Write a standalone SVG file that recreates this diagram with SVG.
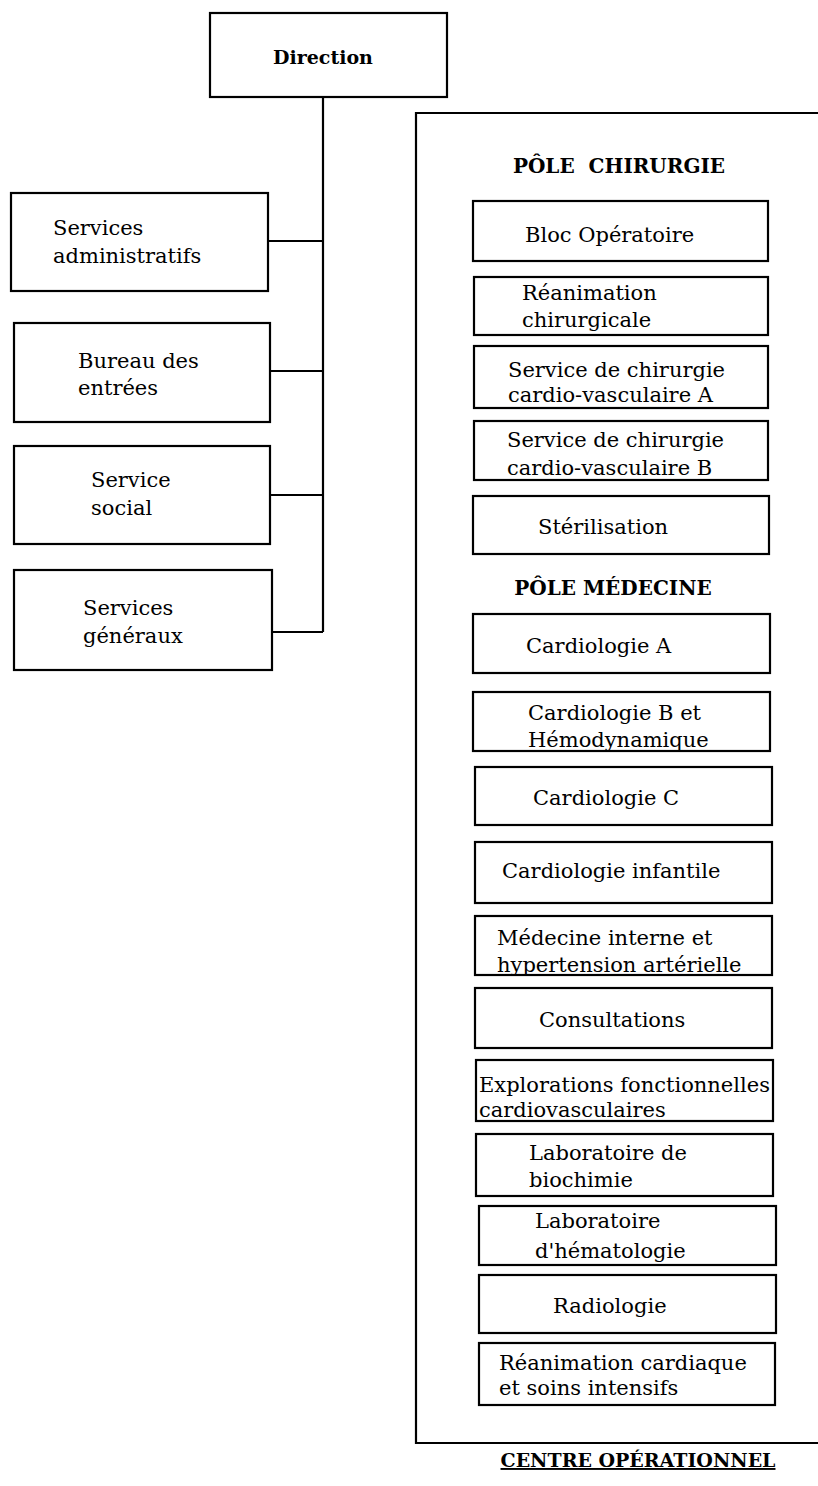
<svg xmlns="http://www.w3.org/2000/svg" width="818" height="1486" viewBox="0 0 818 1486">
<style>
.box{fill:#fff;stroke:#000;stroke-width:2.2}
.ln{fill:none;stroke:#000;stroke-width:2.2}
.t{font-family:"DejaVu Serif","Liberation Serif",serif;font-size:21px;fill:#000}
.b{font-family:"DejaVu Serif","Liberation Serif",serif;font-weight:bold;fill:#000}
</style>
<rect width="818" height="1486" fill="#fff"/>
<g id="connectors">
<path class="ln" d="M323 97 V632"/>
<path class="ln" d="M268 241 H323"/>
<path class="ln" d="M270 371 H323"/>
<path class="ln" d="M270 495 H323"/>
<path class="ln" d="M272 632 H323"/>
</g>
<g id="centre-operationnel">
<path class="ln" d="M818 113 H416 V1443 H818"/>
<text class="b" x="638" y="1467" font-size="19" text-anchor="middle" text-decoration="underline">CENTRE OPÉRATIONNEL</text>
</g>
<g id="direction">
<rect class="box" x="210" y="13" width="237" height="84"/>
<text class="b" x="323" y="64" font-size="19" text-anchor="middle">Direction</text>
</g>
<g id="services-administratifs">
<rect class="box" x="11" y="193" width="257" height="98"/>
<text class="t" x="53" y="235">Services</text>
<text class="t" x="53" y="263">administratifs</text>
</g>
<g id="bureau-des-entrees">
<rect class="box" x="14" y="323" width="256" height="99"/>
<text class="t" x="78" y="368">Bureau des</text>
<text class="t" x="78" y="395">entrées</text>
</g>
<g id="service-social">
<rect class="box" x="14" y="446" width="256" height="98"/>
<text class="t" x="91" y="487">Service</text>
<text class="t" x="91" y="515">social</text>
</g>
<g id="services-generaux">
<rect class="box" x="14" y="570" width="258" height="100"/>
<text class="t" x="83" y="615">Services</text>
<text class="t" x="83" y="643">généraux</text>
</g>
<g id="pole-chirurgie">
<text class="b" x="619" y="173" font-size="20" text-anchor="middle" style="white-space:pre">PÔLE  CHIRURGIE</text>
</g>
<g id="bloc-operatoire">
<rect class="box" x="473" y="201" width="295" height="60"/>
<text class="t" x="525" y="242">Bloc Opératoire</text>
</g>
<g id="reanimation-chirurgicale">
<rect class="box" x="474" y="277" width="294" height="58"/>
<text class="t" x="522" y="300">Réanimation</text>
<text class="t" x="522" y="327">chirurgicale</text>
</g>
<g id="chirurgie-a">
<rect class="box" x="474" y="346" width="294" height="62"/>
<text class="t" x="508" y="377">Service de chirurgie</text>
<text class="t" x="508" y="402">cardio-vasculaire A</text>
</g>
<g id="chirurgie-b">
<rect class="box" x="474" y="421" width="294" height="59"/>
<text class="t" x="507" y="447">Service de chirurgie</text>
<text class="t" x="507" y="475">cardio-vasculaire B</text>
</g>
<g id="sterilisation">
<rect class="box" x="473" y="496" width="296" height="58"/>
<text class="t" x="538" y="534">Stérilisation</text>
</g>
<g id="pole-medecine">
<text class="b" x="613" y="595" font-size="20" text-anchor="middle">PÔLE MÉDECINE</text>
</g>
<g id="cardiologie-a">
<rect class="box" x="473" y="614" width="297" height="59"/>
<text class="t" x="526" y="653">Cardiologie A</text>
</g>
<g id="cardiologie-b">
<rect class="box" x="473" y="692" width="297" height="59"/>
<text class="t" x="528" y="720">Cardiologie B et</text>
<text class="t" x="528" y="747">Hémodynamique</text>
</g>
<g id="cardiologie-c">
<rect class="box" x="475" y="767" width="297" height="58"/>
<text class="t" x="533" y="805">Cardiologie C</text>
</g>
<g id="cardiologie-infantile">
<rect class="box" x="475" y="842" width="297" height="61"/>
<text class="t" x="502" y="878">Cardiologie infantile</text>
</g>
<g id="medecine-interne">
<rect class="box" x="475" y="916" width="297" height="59"/>
<text class="t" x="497" y="945">Médecine interne et</text>
<text class="t" x="497" y="972">hypertension artérielle</text>
</g>
<g id="consultations">
<rect class="box" x="475" y="988" width="297" height="60"/>
<text class="t" x="539" y="1027">Consultations</text>
</g>
<g id="explorations">
<rect class="box" x="476" y="1060" width="297" height="61"/>
<text class="t" x="479" y="1092">Explorations fonctionnelles</text>
<text class="t" x="479" y="1117">cardiovasculaires</text>
</g>
<g id="laboratoire-biochimie">
<rect class="box" x="476" y="1134" width="297" height="62"/>
<text class="t" x="529" y="1160">Laboratoire de</text>
<text class="t" x="529" y="1187">biochimie</text>
</g>
<g id="laboratoire-hematologie">
<rect class="box" x="479" y="1206" width="297" height="59"/>
<text class="t" x="535" y="1228">Laboratoire</text>
<text class="t" x="535" y="1258">d'hématologie</text>
</g>
<g id="radiologie">
<rect class="box" x="479" y="1275" width="297" height="58"/>
<text class="t" x="553" y="1313">Radiologie</text>
</g>
<g id="reanimation-cardiaque">
<rect class="box" x="479" y="1343" width="296" height="62"/>
<text class="t" x="499" y="1370">Réanimation cardiaque</text>
<text class="t" x="499" y="1395">et soins intensifs</text>
</g>
</svg>
